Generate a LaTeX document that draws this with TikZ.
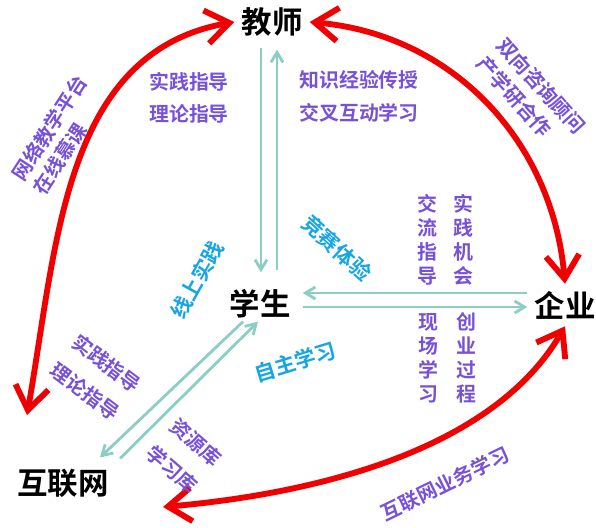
\documentclass[tikz,border=0pt]{standalone}
\usepackage{fontspec}
\setmainfont{Noto Sans CJK SC}[BoldFont={Noto Sans CJK SC Bold}]
\usepackage{xcolor}
\usetikzlibrary{arrows.meta,calc}

\definecolor{zise}{RGB}{120,82,214}
\definecolor{lanse}{RGB}{24,165,228}
\definecolor{qingse}{RGB}{140,206,196}
\definecolor{hongse}{RGB}{240,0,0}

\begin{document}
\begin{tikzpicture}[x=0.03cm,y=0.03cm]
    \tikzstyle{zhuti}=[font=\fontsize{26}{30}\selectfont\bfseries, inner sep=6pt]
    \tikzstyle{zibiao}=[text=zise, font=\fontsize{17}{20}\selectfont\bfseries, inner sep=0pt]
    \tikzstyle{lanbiao}=[text=lanse, font=\fontsize{18}{21}\selectfont\bfseries, inner sep=0pt]
    \tikzstyle{shubiao}=[zibiao, align=center, font=\fontsize{17}{20.4}\selectfont\bfseries]
    \tikzstyle{qingjian}=[draw=qingse, line width=2.4pt, -{Straight Barb[length=3mm,width=3.6mm]}]
    \tikzstyle{hongjian}=[draw=hongse, line width=5pt, {Straight Barb[length=7mm,width=10mm]}-{Straight Barb[length=7mm,width=10mm]}]
    \useasboundingbox (0,0) rectangle (596,527);
    % the four parties
    \node[zhuti] (jiaoshi) at (272,505) {教师};
    \node[zhuti] (xuesheng) at (260,223) {学生};
    \node[zhuti] (qiye) at (565,222) {企业};
    \node[zhuti] (hulianwang) at (63,44) {互联网};
    \coordinate (wangding) at (27,112);
    \coordinate (wangdi) at (163,20);
    % red links
    \draw[hongjian] (jiaoshi.west) to[out=190,in=80] (wangding);
    \draw[hongjian] (jiaoshi.east) to[out=-5,in=95] (qiye.north);
    \draw[hongjian] (wangdi) to[out=5,in=240,looseness=0.85] (qiye.south);
    % links of the student
    \draw[qingjian] ($(jiaoshi.south)+(-11,-4)$) -- ($(jiaoshi.south|-xuesheng.north)+(-11,10)$);
    \draw[qingjian] ($(jiaoshi.south|-xuesheng.north)+(5,12)$) -- ($(jiaoshi.south)+(5,-6)$);
    \draw[qingjian] ($(xuesheng.east-|qiye.west)+(0,11)$) -- ($(xuesheng.east)+(5,11)$);
    \draw[qingjian] ($(xuesheng.east)+(5,-3)$) -- ($(xuesheng.east-|qiye.west)+(0,-3)$);
    \draw[qingjian] ($(xuesheng.south)+(-17,4)$) -- ($(hulianwang.north)+(37,4)$);
    \draw[qingjian] ($(hulianwang.north)+(57,3)$) -- ($(xuesheng.south)+(-2,4)$);
    % purple labels
    \node[zibiao] (shijian) at (189,445) {实践指导};
    \node[zibiao] (lilun) at (189,413) {理论指导};
    \node[zibiao] (zhishi) at (359,447) {知识经验传授};
    \node[zibiao] (jiaocha) at (359,414) {交叉互动学习};
    \node[zibiao, rotate=57, align=left, font=\fontsize{17}{21.5}\selectfont\bfseries] (wangluo) at (60,392) {网络教学平台\\在线慕课};
    \node[zibiao, rotate=-48, align=left, font=\fontsize{17}{23}\selectfont\bfseries] (zixun) at (531,432) {双向咨询顾问\\产学研合作};
    \node[shubiao] (jiaoliu) at (427,287) {交\\流\\指\\导};
    \node[shubiao] (jihui) at (463,287) {实\\践\\机\\会};
    \node[shubiao] (xianchang) at (428,169) {现\\场\\学\\习};
    \node[shubiao] (chuangye) at (466,169) {创\\业\\过\\程};
    \node[zibiao, rotate=-37, align=center, font=\fontsize{17}{30}\selectfont\bfseries] (zhidao) at (96,150) {实践指导\\理论指导};
    \node[zibiao, rotate=-41, align=center, font=\fontsize{17}{31}\selectfont\bfseries] (ziyuan) at (184,71) {资源库\\学习库};
    \node[zibiao, rotate=26] (yewu) at (445,43) {互联网业务学习};
    % blue labels
    \node[lanbiao, rotate=61] (xianshang) at (197,247) {线上实践};
    \node[lanbiao, rotate=-42] (jingsai) at (337,279) {竞赛体验};
    \node[lanbiao, rotate=17] (zizhu) at (295,165) {自主学习};
\end{tikzpicture}
\end{document}
